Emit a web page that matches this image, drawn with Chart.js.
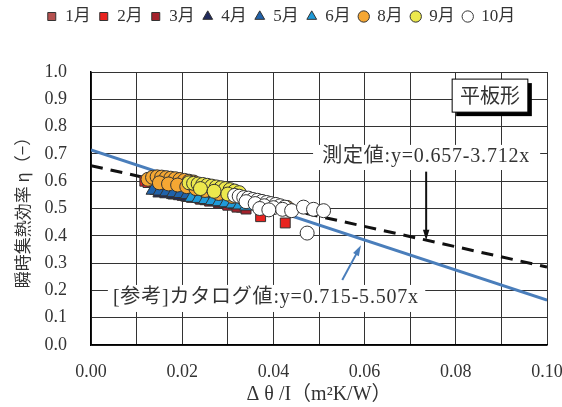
<!DOCTYPE html>
<html>
<head>
<meta charset="utf-8">
<script src="https://cdn.jsdelivr.net/npm/chart.js@4"></script>
<style>
  body { margin: 0; background: #fff; }
  #wrap { width: 562px; height: 407px; }
</style>
</head>
<body>
<div id="wrap"><canvas id="chart" width="562" height="407"></canvas></div>
<script>
const months = ['1月', '2月', '3月', '4月', '5月', '6月', '8月', '9月', '10月'];

// readings per month (Δθ/I, η)
const janX = [0.0150, 0.0180, 0.0210, 0.0250, 0.0290];
const janY = [0.562, 0.553, 0.544, 0.532, 0.520];
const febX = [0.0118, 0.0125, 0.0300, 0.0330, 0.0372, 0.0426];
const febY = [0.600, 0.595, 0.515, 0.505, 0.470, 0.447];
const marX = [0.0140, 0.0160, 0.0180, 0.0200, 0.0220, 0.0240, 0.0260, 0.0280, 0.0300, 0.0320, 0.0340];
const marY = [0.570, 0.562, 0.555, 0.548, 0.541, 0.534, 0.527, 0.520, 0.512, 0.505, 0.498];
const aprX = [0.0150, 0.0165, 0.0180, 0.0195, 0.0210, 0.0225, 0.0240, 0.0255, 0.0270, 0.0285, 0.0300, 0.0315];
const aprY = [0.556, 0.553, 0.550, 0.546, 0.542, 0.538, 0.534, 0.530, 0.526, 0.522, 0.518, 0.514];
const mayX = [0.0135, 0.0150, 0.0165, 0.0180, 0.0195, 0.0210, 0.0225, 0.0240, 0.0255, 0.0270, 0.0285, 0.0300];
const mayY = [0.566, 0.563, 0.560, 0.557, 0.554, 0.550, 0.547, 0.543, 0.539, 0.535, 0.531, 0.527];
const junX = [0.0220, 0.0235, 0.0250, 0.0265, 0.0280, 0.0295, 0.0310, 0.0325, 0.0340];
const junY = [0.540, 0.536, 0.532, 0.528, 0.524, 0.520, 0.516, 0.512, 0.508];
const augX = [0.0125, 0.0135, 0.0145, 0.0155, 0.0165, 0.0175, 0.0185, 0.0195, 0.0205, 0.0215, 0.0225,
              0.0150, 0.0170, 0.0190, 0.0210, 0.0230, 0.0250, 0.0280, 0.0310, 0.0335, 0.0360, 0.0385, 0.0410, 0.0430];
const augY = [0.607, 0.614, 0.616, 0.615, 0.613, 0.611, 0.609, 0.606, 0.603, 0.600, 0.597,
              0.594, 0.590, 0.586, 0.580, 0.573, 0.566, 0.555, 0.544, 0.534, 0.523, 0.516, 0.510, 0.504];
const sepX = [0.0215, 0.0225, 0.0235, 0.0245, 0.0255, 0.0265, 0.0275, 0.0285, 0.0295, 0.0305, 0.0315, 0.0325,
              0.0240, 0.0270, 0.0300, 0.0400, 0.0437];
const sepY = [0.594, 0.592, 0.590, 0.588, 0.585, 0.582, 0.579, 0.576, 0.573, 0.569, 0.564, 0.558,
              0.573, 0.563, 0.553, 0.515, 0.494];
const octX = [0.0315, 0.0325, 0.0335, 0.0345, 0.0355, 0.0365, 0.0375, 0.0385, 0.0395, 0.0405, 0.0415, 0.0425,
              0.0340, 0.0360, 0.0380, 0.0400, 0.0420, 0.0440, 0.0466, 0.0488, 0.0510, 0.0474, 0.0370, 0.0390];
const octY = [0.548, 0.545, 0.540, 0.538, 0.533, 0.530, 0.526, 0.522, 0.518, 0.515, 0.510, 0.505,
              0.525, 0.518, 0.510, 0.503, 0.497, 0.492, 0.505, 0.497, 0.492, 0.410, 0.500, 0.495];

// regression lines (intercept, slope)
const measured = [0.657, -3.712];
const catalog = [0.715, -5.507];
const lineX = [0, 0.1];

const xTicks = [0, 0.02, 0.04, 0.06, 0.08, 0.10];

const serif = "'Liberation Serif', 'Noto Sans CJK JP', serif";
const jp = "'Noto Sans CJK JP', sans-serif";

function pts(xs, ys) {
  return xs.map((x, i) => ({ x: x, y: ys[i] }));
}
function line(coef) {
  return lineX.map(x => ({ x: x, y: coef[0] + coef[1] * x }));
}

const styles = [
  { data: pts(janX, janY), bg: '#b5514f', shape: 'rect', r: 7 },
  { data: pts(febX, febY), bg: '#e8231f', shape: 'rect', r: 7 },
  { data: pts(marX, marY), bg: '#a4222c', shape: 'rect', r: 7 },
  { data: pts(aprX, aprY), bg: '#202a5c', shape: 'triangle', r: 7.5 },
  { data: pts(mayX, mayY), bg: '#2062aa', shape: 'triangle', r: 7.5 },
  { data: pts(junX, junY), bg: '#1f9ad8', shape: 'triangle', r: 7.5 },
  { data: pts(augX, augY), bg: '#f5a733', shape: 'circle', r: 7 },
  { data: pts(sepX, sepY), bg: '#ece84d', shape: 'circle', r: 7 },
  { data: pts(octX, octY), bg: '#ffffff', shape: 'circle', r: 7 }
];

const datasets = styles.map((s, i) => ({
  label: months[i],
  data: s.data,
  backgroundColor: s.bg,
  borderColor: '#333',
  borderWidth: 1,
  pointStyle: s.shape,
  pointRadius: s.r,
  pointHoverRadius: s.r,
  order: 9 - i
}));

datasets.push({
  label: 'catalog',
  data: line(catalog),
  showLine: true,
  borderColor: '#4a7ebb',
  borderWidth: 3,
  pointRadius: 0,
  order: 20
});
datasets.push({
  label: 'measured',
  data: line(measured),
  showLine: true,
  borderColor: '#111',
  borderWidth: 3,
  borderDash: [12, 8],
  pointRadius: 0,
  order: 21
});

function arrow(ctx, x1, y1, x2, y2, color) {
  const a = Math.atan2(y2 - y1, x2 - x1);
  const len = 11;
  ctx.strokeStyle = color;
  ctx.fillStyle = color;
  ctx.lineWidth = 2;
  ctx.beginPath();
  ctx.moveTo(x1, y1);
  ctx.lineTo(x2 - Math.cos(a) * len * 0.8, y2 - Math.sin(a) * len * 0.8);
  ctx.stroke();
  ctx.beginPath();
  ctx.moveTo(x2, y2);
  ctx.lineTo(x2 - len * Math.cos(a - 0.3), y2 - len * Math.sin(a - 0.3));
  ctx.lineTo(x2 - len * Math.cos(a + 0.3), y2 - len * Math.sin(a + 0.3));
  ctx.closePath();
  ctx.fill();
}

// text boxes, arrows and the panel label
const notes = {
  id: 'notes',
  afterDatasetsDraw(chart) {
    const ctx = chart.ctx;
    const xs = chart.scales.x, ys = chart.scales.y;
    const px = v => xs.getPixelForValue(v);
    const py = v => ys.getPixelForValue(v);
    ctx.save();

    // 平板形
    let l = px(0.0792), t = py(0.974), r = px(0.0958), b = py(0.853);
    ctx.fillStyle = '#000';
    ctx.fillRect(l + 4, t + 4, r - l, b - t);
    ctx.fillStyle = '#fff';
    ctx.fillRect(l, t, r - l, b - t);
    ctx.strokeStyle = '#000';
    ctx.lineWidth = 1;
    ctx.strokeRect(l, t, r - l, b - t);
    ctx.fillStyle = '#333';
    ctx.font = '20px ' + jp;
    ctx.textAlign = 'center';
    ctx.textBaseline = 'middle';
    ctx.fillText('平板形', (l + r) / 2, (t + b) / 2);

    // measured label
    ctx.fillStyle = '#fff';
    l = px(0.0487); r = px(0.0985); t = py(0.733); b = py(0.641);
    ctx.fillRect(l, t, r - l, b - t);
    ctx.fillStyle = '#333';
    ctx.font = '20px ' + serif;
    ctx.letterSpacing = '0.8px';
    ctx.textAlign = 'left';
    ctx.fillText('測定値:y=0.657-3.712x', px(0.0507), py(0.689));
    arrow(ctx, px(0.0735), py(0.635), px(0.0735), py(0.384), '#111');

    // catalog label
    ctx.fillStyle = '#fff';
    l = px(0.0037); r = px(0.0733); t = py(0.22); b = py(0.121);
    ctx.fillRect(l, t, r - l, b - t);
    ctx.fillStyle = '#333';
    ctx.fillText('[参考]カタログ値:y=0.715-5.507x', px(0.0048), py(0.172));
    arrow(ctx, px(0.0551), py(0.238), px(0.0592), py(0.365), '#4a7ebb');

    ctx.restore();
  }
};

// keep room between the legend row and the plot
const legendGap = {
  id: 'legendGap',
  beforeLayout(chart) {
    const lg = chart.legend;
    if (lg && !lg._gap) {
      const fit = lg.fit;
      lg.fit = function () {
        fit.call(this);
        this.height = 72;
      };
      lg._gap = true;
    }
  }
};

Chart.defaults.font.family = serif;
Chart.defaults.color = '#333';

new Chart(document.getElementById('chart'), {
  type: 'scatter',
  data: { datasets: datasets },
  options: {
    responsive: false,
    animation: false,
    layout: { padding: { left: 0, right: 0, top: 0, bottom: 0 } },
    plugins: {
      tooltip: { enabled: false },
      legend: {
        position: 'top',
        labels: {
          usePointStyle: true,
          boxWidth: 10,
          boxHeight: 8,
          padding: 8,
          font: { size: 17, family: serif },
          color: '#333',
          filter: item => item.datasetIndex < 9,
          sort: (a, b) => a.datasetIndex - b.datasetIndex
        }
      }
    },
    scales: {
      x: {
        type: 'linear',
        min: 0,
        max: 0.1,
        afterFit: s => {
          s.height = 62;
          s.paddingLeft = 0;
          s.paddingRight = 15;
        },
        afterBuildTicks: s => {
          s.ticks = [];
          for (let i = 0; i <= 10; i++) s.ticks.push({ value: i / 100 });
        },
        ticks: {
          autoSkip: false,
          maxRotation: 0,
          padding: 16,
          font: { size: 18 },
          callback: v => {
            const hit = xTicks.find(t => Math.abs(t - v) < 1e-9);
            return hit === undefined ? '' : hit.toFixed(2);
          }
        },
        grid: { color: '#333', lineWidth: 1, drawTicks: false },
        border: { color: '#000', width: 1.5 },
        title: {
          display: true,
          text: 'Δ θ /I（m²K/W）',
          font: { size: 20 },
          padding: { top: 0, bottom: 0 }
        }
      },
      y: {
        min: 0,
        max: 1,
        afterFit: s => { s.width = 91; },
        ticks: {
          stepSize: 0.1,
          padding: 24,
          font: { size: 18 },
          callback: v => v.toFixed(1)
        },
        grid: { color: '#333', lineWidth: 1, drawTicks: false },
        border: { color: '#000', width: 1.5 },
        title: {
          display: true,
          text: '瞬時集熱効率 η（−）',
          font: { size: 17, family: jp },
          padding: { top: 12, bottom: 0 }
        }
      }
    }
  },
  plugins: [notes, legendGap]
});
</script>
</body>
</html>
